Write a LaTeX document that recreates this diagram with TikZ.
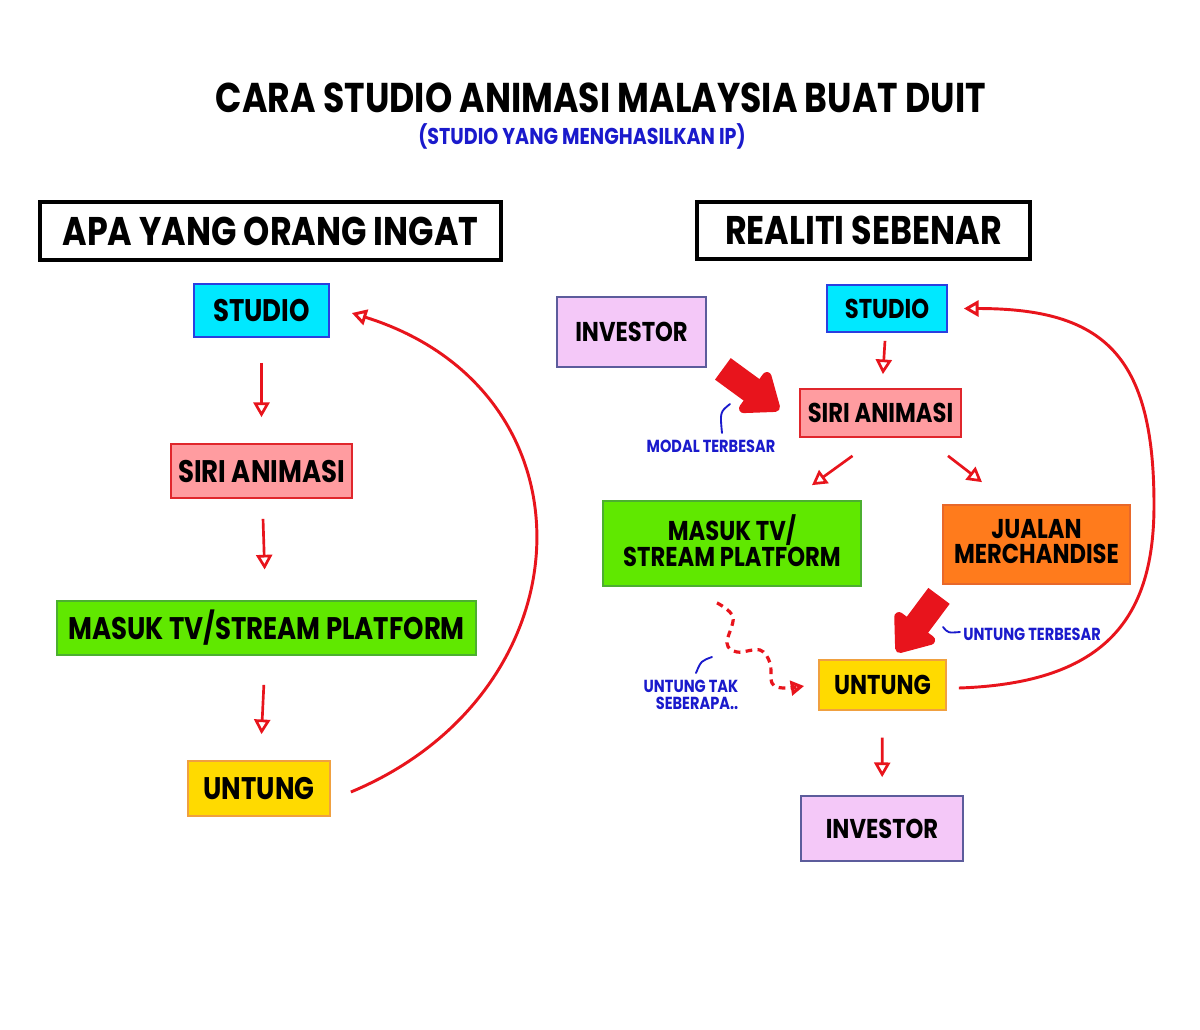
\documentclass[tikz,border=0pt]{standalone}
\usepackage{fontspec}
\setmainfont{Poppins}
\usetikzlibrary{arrows.meta,calc}
\definecolor{cyanF}{HTML}{00E8FF}\definecolor{cyanD}{HTML}{2A3FE0}
\definecolor{pinkF}{HTML}{FF9CA0}\definecolor{pinkD}{HTML}{E0262C}
\definecolor{greenF}{HTML}{60E800}\definecolor{greenD}{HTML}{4CAF30}
\definecolor{yellowF}{HTML}{FFDA00}\definecolor{yellowD}{HTML}{F0A040}
\definecolor{lavF}{HTML}{F4C8F8}\definecolor{lavD}{HTML}{5C5C9C}
\definecolor{orangeF}{HTML}{FF7B1C}\definecolor{orangeD}{HTML}{E8682A}
\definecolor{arrred}{HTML}{E8141C}
\definecolor{noteblue}{HTML}{1A1ACC}
\newcommand\Tx[1]{\scalebox{1}[1.2]{#1}}
\begin{document}
\begin{tikzpicture}[x=0.75pt,y=-0.75pt,
  bx/.style={draw, line width=1.3pt, inner sep=0pt, align=center, font=\bfseries\fontsize{19.5}{15}\selectfont},
  bxr/.style={bx, font=\bfseries\fontsize{17}{13}\selectfont},
  hdr/.style={draw=black, line width=2.6pt, inner sep=0pt, font=\bfseries\fontsize{25}{28}\selectfont},
  thinarr/.style={draw=arrred, line width=2pt, -{Triangle[open,length=11pt,width=12pt]}},
  fatarr/.style={draw=arrred, line width=20pt, line join=round, -{Triangle[length=28pt,width=42pt,round]}},
  loop/.style={draw=arrred, line width=2.2pt, -{Triangle[open,length=11pt,width=12pt]}},
  note/.style={text=noteblue, inner sep=0pt, font=\bfseries\fontsize{10.9}{8.4}\selectfont, align=center},
  tk/.style={draw=noteblue, line width=1.4pt, line cap=round}]
\useasboundingbox[fill=white] (0,0) rectangle (1200,1029);

% titles
\node[font=\bfseries\fontsize{26}{28}\selectfont, inner sep=0pt] (title) at (601,98) {\Tx{CARA STUDIO ANIMASI MALAYSIA BUAT DUIT}};
\node[note, font=\bfseries\fontsize{14.3}{15}\selectfont] (sub) at (582,136) {\Tx{(STUDIO YANG MENGHASILKAN IP)}};
\node[hdr, minimum width=345.75pt, minimum height=43.5pt] (headL) at (270.5,231) {\Tx{APA YANG ORANG INGAT}};
\node[hdr, minimum width=249.75pt, minimum height=42.75pt] (headR) at (863.5,230.5) {\Tx{REALITI SEBENAR}};

% left column
\node[bx, fill=cyanF, draw=cyanD, minimum width=101.25pt, minimum height=39.75pt] (studioL) at (261.5,310.5) {\Tx{STUDIO}};
\node[bx, fill=pinkF, draw=pinkD, minimum width=135.75pt, minimum height=40.5pt] (siriL) at (261.5,471) {\Tx{SIRI ANIMASI}};
\node[bx, fill=greenF, draw=greenD, minimum width=314.25pt, minimum height=40.5pt] (tvL) at (266.5,628) {\Tx{MASUK TV/STREAM PLATFORM}};
\node[bx, fill=yellowF, draw=yellowD, minimum width=106.5pt, minimum height=41.25pt] (untungL) at (259,788.5) {\Tx{UNTUNG}};

\draw[thinarr, shorten <=18.75pt, shorten >=19.5pt] (studioL) -- (siriL);
\draw[thinarr, shorten <=15pt, shorten >=23pt] (siriL) -- (tvL);
\draw[thinarr, shorten <=21.75pt, shorten >=19.5pt] (tvL) -- (untungL);
\draw[loop] ($(untungL.east)+(20,3.5)$) .. controls +(240,-100) and +(250,78) .. ($(studioL.east)+(22,2.5)$);

% right column
\node[bxr, fill=lavF, draw=lavD, minimum width=111.75pt, minimum height=52.5pt] (invA) at (631.5,332) {\Tx{INVESTOR}};
\node[bxr, fill=cyanF, draw=cyanD, minimum width=90pt, minimum height=35.25pt] (studioR) at (887,308.5) {\Tx{STUDIO}};
\node[bxr, fill=pinkF, draw=pinkD, minimum width=120.75pt, minimum height=36pt] (siriR) at (880.5,413) {\Tx{SIRI ANIMASI}};
\node[bxr, fill=greenF, draw=greenD, minimum width=193.5pt, minimum height=63.75pt] (tvR) at (732,543.5) {\Tx{\begin{tabular}{@{}c@{}}MASUK TV/\\STREAM PLATFORM\end{tabular}}};
\node[bxr, fill=orangeF, draw=orangeD, minimum width=140.25pt, minimum height=59.25pt] (merch) at (1036.5,544.5) {\Tx{\begin{tabular}{@{}c@{}}JUALAN\\MERCHANDISE\end{tabular}}};
\node[bxr, fill=yellowF, draw=yellowD, minimum width=95.25pt, minimum height=37.5pt] (untungR) at (882.5,685) {\Tx{UNTUNG}};
\node[bxr, fill=lavF, draw=lavD, minimum width=121.5pt, minimum height=48.75pt] (invB) at (882,828.5) {\Tx{INVESTOR}};

\draw[thinarr, shorten <=6pt, shorten >=10.5pt] (studioR) -- (siriR);
\draw[thinarr] ($(siriR.south)+(-28,18)$) -- ($(tvR.north)+(80,-15)$);
\draw[thinarr] ($(siriR.south)+(67.5,18)$) -- ($(merch.north)+(-54.5,-22)$);
\draw[thinarr, shorten <=20pt, shorten >=13.5pt] (untungR) -- (invB);

\draw[fatarr] ($(invA.south east)+(16,1)$) -- ($(siriR.west)+(-20,-3)$);
\draw[fatarr] ($(merch.south)+(-97.5,11)$) -- ($(untungR.north)+(14.5,-7)$);

\coordinate (rmid) at (1154,505);
\draw[loop] ($(untungR.east)+(12,3)$) .. controls +(150,-5) and +(0,110) .. (rmid) .. controls +(0,-150) and +(140,0) .. ($(studioR.east)+(16,0)$);

\draw[draw=arrred, line width=2.4pt, dash pattern=on 5pt off 4pt, -{Triangle[open,length=10pt,width=11pt]}]
  plot[smooth, tension=0.6] coordinates {($(tvR.south)+(-15,16)$) (733,617) (727,643) (737,652) (760,650) (770,663) (772,683) (783,688) ($(untungR.west)+(-14,1)$)};

% notes
\draw[tk] (730,404) .. controls (720,412) .. (722,433);
\node[note] (lblModal) at (711,446) {\Tx{MODAL TERBESAR}};
\draw[tk] (712,657) .. controls (701,661) .. (696,673);
\node[note] (lblTak) at (691,697) {\Tx{\begin{tabular}{@{}r@{}}UNTUNG TAK\\SEBERAPA..\end{tabular}}};
\draw[tk] (943,627) .. controls (948,633) .. (960,632);
\node[note, anchor=west] (lblBig) at (963,634) {\Tx{UNTUNG TERBESAR}};
\end{tikzpicture}
\end{document}
